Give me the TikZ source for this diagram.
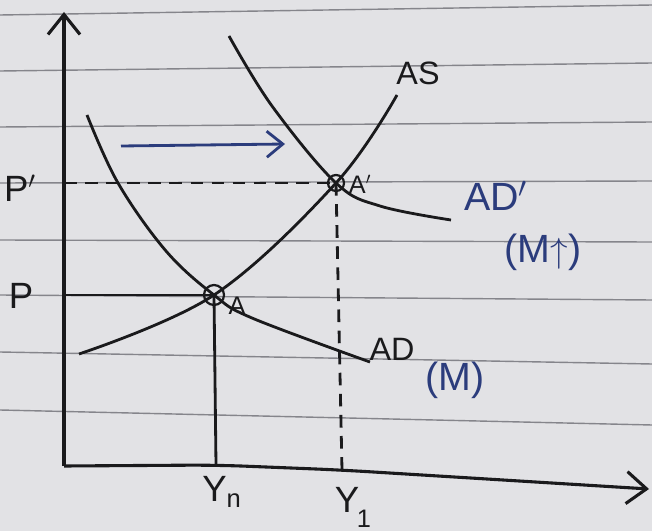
\documentclass[tikz,border=0pt]{standalone}
\usepackage{fontspec}
\setmainfont{Liberation Sans}
\usepackage{tikz}
\usetikzlibrary{arrows.meta,positioning,calc}
\definecolor{paper}{HTML}{E2E2E5}
\definecolor{rule}{HTML}{85858B}
\definecolor{ink}{HTML}{1A1A1C}
\definecolor{pen}{HTML}{2B3C7C}
\tikzset{
  ruled/.style ={draw=rule, line width=1pt},
  axis/.style  ={draw=ink, line width=2.2pt, -{Straight Barb[length=5mm, width=8mm, line width=2.2pt]}},
  curve/.style ={draw=ink, line width=2pt},
  guide/.style ={draw=ink, line width=2pt},
  guided/.style={guide, dash pattern=on 9pt off 6pt},
  ring/.style  ={draw=ink, line width=1.6pt, circle, minimum size=5mm, inner sep=0pt},
  lbl/.style   ={text=ink, inner sep=0pt, font=\fontsize{26}{28}\selectfont},
  small/.style ={text=ink, inner sep=0pt, font=\fontsize{18}{20}\selectfont},
  bluel/.style ={text=pen, inner sep=0pt, font=\fontsize{28}{30}\selectfont},
  shiftarr/.style ={draw=pen, line width=2pt, -{Straight Barb[length=4mm, width=6.5mm, line width=2pt]}},
}
\begin{document}
\begin{tikzpicture}[x=0.25mm,y=-0.25mm]
\useasboundingbox (0,0) rectangle (652,531);
\fill[paper] (0,0) rectangle (652,531);
% ruled lines of the paper
\foreach \yl/\yr in {15/5, 71/63, 127/122, 183/181, 240/242, 295/300, 352/364, 410/425}
  \draw[ruled] (0,\yl) -- (652,\yr);
% axes
\coordinate (O) at (64,466);
\coordinate (ytop) at (64,12);
\coordinate (xa) at (216,465);
\coordinate (xb) at (341,470);
\coordinate (xend) at (649,489);
\draw[axis] (O) -- (ytop);
\draw[axis, rounded corners=20pt] (O) -- (xa) -- (xb) -- (xend);
% equilibrium points
\coordinate (A) at (214,295);
\coordinate (A1) at (336,183);
\coordinate (yn) at (216,465);
\coordinate (y1) at (342,470);
\coordinate (pA) at (64,295);
\coordinate (pA1) at (64,183);
\draw[guide] (pA) -- (A);
\draw[guide] (A) -- (yn);
\draw[guided] (pA1) -- (A1);
\draw[guided] (A1) -- (y1);
% AS
\coordinate (asL) at (79,354);
\coordinate (asT) at (397,95);
\draw[curve] plot[smooth, tension=0.6] coordinates {(asL) (A) (A1) (asT)};
% AD
\coordinate (adT) at (87,115);
\coordinate (ad2) at (118,183);
\coordinate (ad3) at (166,251);
\coordinate (ad4) at (252,318);
\coordinate (adR) at (370,362);
\draw[curve] plot[smooth, tension=0.6] coordinates {(adT) (ad2) (ad3) (A) (ad4) (adR)};
% AD'
\coordinate (bdT) at (229,36);
\coordinate (bd2) at (272,106);
\coordinate (bd4) at (380,206);
\coordinate (bdR) at (451,220);
\draw[curve] plot[smooth, tension=0.6] coordinates {(bdT) (bd2) (A1) (bd4) (bdR)};
\node[ring] (ringA) at (A) {};
\node[ring, minimum size=4mm] (ringA1) at (A1) {};
% shift
\coordinate (sh0) at (121,146);
\coordinate (sh1) at (285,144);
\draw[shiftarr] (sh0) -- (sh1);
% labels
\node[lbl] (lP) at (21,296) {P};
\node[lbl] (lP1) at (20,188) {P$'$};
\node[small] (lA) at (237,306) {A};
\node[small] (lA1) at (360,184) {A$'$};
\node[lbl, font=\fontsize{23}{25}\selectfont] (lAS) at (418,73) {AS};
\node[lbl, font=\fontsize{23}{25}\selectfont] (lAD) at (392,349) {AD};
\node[bluel] (lM) at (455,380) {(M)};
\node[bluel] (lAD1) at (496,196) {AD$'$};
\node[bluel] (lM1) at (543,252) {(M$\uparrow$)};
\node[lbl] (lYn) at (222,492) {Y\textsubscript{n}};
\node[lbl] (lY1) at (347,500) {Y};
\node[lbl, font=\fontsize{18}{20}\selectfont] (lone) at (364,519) {1};
\end{tikzpicture}
\end{document}
